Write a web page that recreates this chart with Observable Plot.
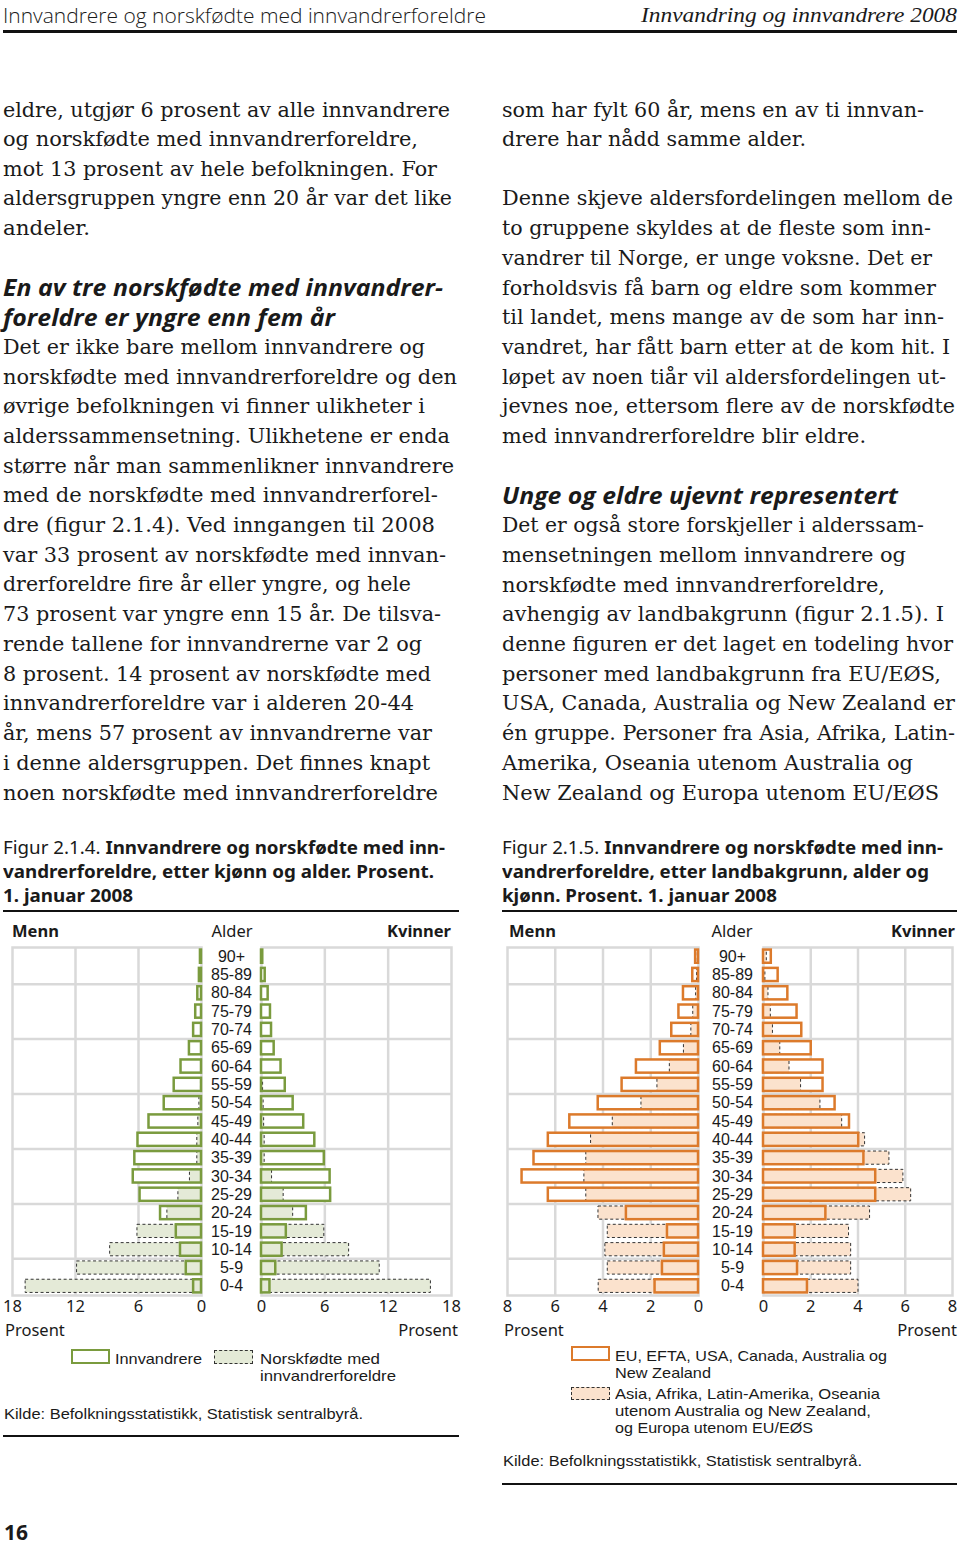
<!DOCTYPE html>
<html><head><meta charset="utf-8">
<script src="https://cdn.jsdelivr.net/npm/d3@7"></script>
<script src="https://cdn.jsdelivr.net/npm/@observablehq/plot@0.6"></script>
<style>
html,body{margin:0;padding:0;background:#fff;}
#page{position:relative;width:960px;height:1545px;background:#fff;overflow:hidden;color:#1a1a1a;}
.t{position:absolute;white-space:nowrap;line-height:1;transform-origin:0 50%;}
.body{font-family:"DejaVu Serif";font-size:21px;}
.head{font-family:"Open Sans";font-weight:700;font-style:italic;font-size:23px;}
.cap{font-family:"Noto Sans";font-size:17.5px;}
.cap b{font-weight:700;}
.lab{font-family:"Noto Sans";font-size:16.5px;}
.labb{font-family:"Noto Sans";font-size:16.5px;font-weight:700;}
.leg{font-family:"Liberation Sans";font-size:15px;}
.hdl{font-family:"Open Sans";font-weight:300;font-size:21px;}
.hdr{font-family:"Liberation Serif";font-style:italic;font-size:22px;}
.pg{font-family:"Noto Sans";font-weight:700;font-size:21px;}
.rule{position:absolute;background:#111;}
.sw{position:absolute;box-sizing:border-box;}
svg{position:absolute;overflow:visible;}
</style></head>
<body><div id="page"></div>
<script>
// ---------- DATA ----------
const ages = ["0-4","5-9","10-14","15-19","20-24","25-29","30-34","35-39","40-44","45-49","50-54","55-59","60-64","65-69","70-74","75-79","80-84","85-89","90+"];
// Figur 2.1.4 (prosent)
const innvMenn   = [0.75,1.45,2.0,2.4,3.9,5.85,6.5,6.35,6.05,5.0,3.55,2.6,1.95,1.15,0.75,0.55,0.35,0.2,0.1];
const norskMenn  = [16.75,11.85,8.7,6.1,3.25,2.2,1.1,0.4,0.4,0.3,0.2,0.05,0.03,0.02,0.02,0.01,0.01,0,0];
const innvKv     = [0.8,1.35,1.95,2.35,4.25,6.55,6.5,5.95,5.05,4.0,3.0,2.25,1.85,1.2,0.95,0.85,0.63,0.35,0.12];
const norskKv    = [16.05,11.2,8.3,5.95,3.0,2.1,1.0,0.3,0.3,0.25,0.2,0.15,0.05,0.03,0.02,0.01,0.01,0,0];
// Figur 2.1.5 (prosent)
const euMenn     = [1.82,1.51,1.43,1.3,3.02,6.29,7.39,6.89,6.29,5.39,4.2,3.2,2.6,1.6,1.12,0.82,0.63,0.24,0.12];
const asiaMenn   = [4.18,3.8,3.9,3.8,4.19,4.7,4.78,4.7,4.5,3.59,2.39,1.72,1.2,0.61,0.3,0.22,0.1,0.06,0.03];
const euKv       = [1.86,1.44,1.34,1.34,2.64,4.75,4.75,4.25,4.03,3.64,3.03,2.52,2.52,2.02,1.62,1.42,1.03,0.62,0.33];
const asiaKv     = [4.02,3.71,3.71,3.62,4.51,6.25,5.92,5.33,4.3,3.33,2.41,1.59,1.1,0.71,0.4,0.31,0.21,0.08,0.14];
const ticks1 = [0,6,12,18];
const ticks2 = [0,2,4,6,8];
const gridAgeBreaks = [2,5,8,11,14,17];

// ---------- TEXT ----------
const page = document.getElementById('page');
function txt(x, y, content, o = {}) {
  const el = document.createElement('div');
  el.className = 't ' + (o.cls || '');
  el.innerHTML = content;
  el.style.left = x + 'px';
  page.appendChild(el);
  const fs = parseFloat(getComputedStyle(el).fontSize);
  el.style.top = (y - fs * (o.k || 0.5)) + 'px';
  const w = el.getBoundingClientRect().width;
  if (o.r != null) el.style.transform = `scaleX(${(o.r - x) / w})`;
  if (o.end != null) el.style.left = (o.end - w) + 'px';
  if (o.c != null) el.style.left = (o.c - w / 2) + 'px';
  return el;
}
function rule(x1, x2, y, h) {
  const d = document.createElement('div');
  d.className = 'rule';
  Object.assign(d.style, {left: x1 + 'px', width: (x2 - x1) + 'px', top: (y - h / 2) + 'px', height: h + 'px'});
  page.appendChild(d);
}

// header
txt(3, 15, "Innvandrere og norskfødte med innvandrerforeldre", {cls: 'hdl', r: 486});
txt(641, 15, "Innvandring og innvandrere 2008", {cls: 'hdr', r: 957});
rule(3, 957, 31, 3);

const colL = [
 [110,"eldre, utgjør 6 prosent av alle innvandrere",450,"body"],
 [139,"og norskfødte med innvandrerforeldre,",418,"body"],
 [169,"mot 13 prosent av hele befolkningen. For",437,"body"],
 [198,"aldersgruppen yngre enn 20 år var det like",452,"body"],
 [228,"andeler.",90,"body"],
 [287,"En av tre norskfødte med innvandrer-",443,"head"],
 [317,"foreldre er yngre enn fem år",335,"head"],
 [347,"Det er ikke bare mellom innvandrere og",425,"body"],
 [377,"norskfødte med innvandrerforeldre og den",457,"body"],
 [406,"øvrige befolkningen vi finner ulikheter i",425,"body"],
 [436,"alderssammensetning. Ulikhetene er enda",450,"body"],
 [466,"større når man sammenlikner innvandrere",454,"body"],
 [495,"med de norskfødte med innvandrerforel-",438,"body"],
 [525,"dre (figur 2.1.4). Ved inngangen til 2008",435,"body"],
 [555,"var 33 prosent av norskfødte med innvan-",446,"body"],
 [584,"drerforeldre fire år eller yngre, og hele",411,"body"],
 [614,"73 prosent var yngre enn 15 år. De tilsva-",441,"body"],
 [644,"rende tallene for innvandrerne var 2 og",422,"body"],
 [674,"8 prosent. 14 prosent av norskfødte med",431,"body"],
 [703,"innvandrerforeldre var i alderen 20-44",414,"body"],
 [733,"år, mens 57 prosent av innvandrerne var",432,"body"],
 [763,"i denne aldersgruppen. Det finnes knapt",430,"body"],
 [793,"noen norskfødte med innvandrerforeldre",438,"body"]
];
const colR = [
 [110,"som har fylt 60 år, mens en av ti innvan-",924,"body"],
 [139,"drere har nådd samme alder.",806,"body"],
 [198,"Denne skjeve aldersfordelingen mellom de",953,"body"],
 [228,"to gruppene skyldes at de fleste som inn-",931,"body"],
 [258,"vandrer til Norge, er unge voksne. Det er",932,"body"],
 [288,"forholdsvis få barn og eldre som kommer",936,"body"],
 [317,"til landet, mens mange av de som har inn-",944,"body"],
 [347,"vandret, har fått barn etter at de kom hit. I",950,"body"],
 [377,"løpet av noen tiår vil aldersfordelingen ut-",946,"body"],
 [406,"jevnes noe, ettersom flere av de norskfødte",955,"body"],
 [436,"med innvandrerforeldre blir eldre.",866,"body"],
 [495,"Unge og eldre ujevnt representert",898,"head"],
 [525,"Det er også store forskjeller i alderssam-",924,"body"],
 [555,"mensetningen mellom innvandrere og",906,"body"],
 [585,"norskfødte med innvandrerforeldre,",885,"body"],
 [614,"avhengig av landbakgrunn (figur 2.1.5). I",944,"body"],
 [644,"denne figuren er det laget en todeling hvor",953,"body"],
 [674,"personer med landbakgrunn fra EU/EØS,",941,"body"],
 [703,"USA, Canada, Australia og New Zealand er",955,"body"],
 [733,"én gruppe. Personer fra Asia, Afrika, Latin-",955,"body"],
 [763,"Amerika, Oseania utenom Australia og",913,"body"],
 [793,"New Zealand og Europa utenom EU/EØS",939,"body"]
];
colL.forEach(([y, s, r, c]) => txt(3, y, s, {cls: c, r}));
colR.forEach(([y, s, r, c]) => txt(502, y, s, {cls: c, r}));

// captions
txt(3, 848, "Figur 2.1.4. <b>Innvandrere og norskfødte med inn-</b>", {cls: "cap", r: 445});
txt(3, 872, "<b>vandrerforeldre, etter kjønn og alder. Prosent.</b>", {cls: "cap", r: 434});
txt(3, 896, "<b>1. januar 2008</b>", {cls: "cap", r: 133});
rule(3, 459, 911, 1.6);
txt(502, 848, "Figur 2.1.5. <b>Innvandrere og norskfødte med inn-</b>", {cls: "cap", r: 943});
txt(502, 872, "<b>vandrerforeldre, etter landbakgrunn, alder og</b>", {cls: "cap", r: 929});
txt(502, 896, "<b>kjønn. Prosent. 1. januar 2008</b>", {cls: "cap", r: 777});
rule(502, 957, 911, 1.6);

// chart headings
txt(12, 931, "Menn", {cls: "labb"});
txt(0, 931, "Alder", {cls: "lab", c: 232});
txt(0, 931, "Kvinner", {cls: "labb", end: 451});
txt(509, 931, "Menn", {cls: "labb"});
txt(0, 931, "Alder", {cls: "lab", c: 732});
txt(0, 931, "Kvinner", {cls: "labb", end: 955});
txt(5, 1330, "Prosent", {cls: "lab"});
txt(0, 1330, "Prosent", {cls: "lab", end: 458});
txt(504, 1330, "Prosent", {cls: "lab"});
txt(0, 1330, "Prosent", {cls: "lab", end: 957});

// legends
const GREEN = "#7a9b3e", GREENL = "#e4ead7", ORANGE = "#dc7a2b", ORANGEL = "#fbe2cd", GRID = "#d9d9d9";
function swatch(x, y, w, h, border, bg) {
  const d = document.createElement('div');
  d.className = 'sw';
  Object.assign(d.style, {left: x + 'px', top: y + 'px', width: w + 'px', height: h + 'px', border, background: bg});
  page.appendChild(d);
}
swatch(71, 1349, 39, 15, `2.5px solid ${GREEN}`, "#fff");
txt(115, 1358, "Innvandrere", {cls: "leg", r: 202});
swatch(214, 1350, 39, 14, "1px dashed #333", GREENL);
txt(260, 1358, "Norskfødte med", {cls: "leg", r: 380});
txt(260, 1375, "innvandrerforeldre", {cls: "leg", r: 396});
txt(4, 1413, "Kilde: Befolkningsstatistikk, Statistisk sentralbyrå.", {cls: "leg", r: 363});
rule(3, 459, 1436, 1.6);

swatch(571, 1346, 39, 15, `2.5px solid ${ORANGE}`, "#fff");
txt(615, 1355, "EU, EFTA, USA, Canada, Australia og", {cls: "leg", r: 887});
txt(615, 1372, "New Zealand", {cls: "leg", r: 711});
swatch(571, 1387, 39, 13, "1px dashed #333", ORANGEL);
txt(615, 1393, "Asia, Afrika, Latin-Amerika, Oseania", {cls: "leg", r: 880});
txt(615, 1410, "utenom Australia og New Zealand,", {cls: "leg", r: 871});
txt(615, 1427, "og Europa utenom EU/EØS", {cls: "leg", r: 813});
txt(503, 1460, "Kilde: Befolkningsstatistikk, Statistisk sentralbyrå.", {cls: "leg", r: 862});
rule(502, 957, 1484, 1.6);

txt(4, 1532, "16", {cls: "pg"});

// ---------- CHARTS ----------
function half({left, top, side, solid, dashed, max, ticks, marginLeft, marginRight, frameW, stroke, light, labels, labelDx}) {
  const data = ages.map((a, i) => ({i, a, s: solid[i], d: dashed[i]}));
  const y1 = d => d.i + 0.14, y2 = d => d.i + 0.86;
  const marks = [
    Plot.ruleX(ticks.filter(t => t > 0 && t < max), {stroke: GRID, strokeWidth: 2.5}),
    Plot.ruleY(gridAgeBreaks, {stroke: GRID, strokeWidth: 2.5}),
    Plot.frame({stroke: GRID, strokeWidth: 2.5}),
    Plot.rect(data, {x1: 0, x2: "s", y1, y2, fill: "white"}),
    Plot.rect(data, {x1: 0, x2: "d", y1, y2, fill: light, stroke: "#333", strokeWidth: 1, strokeDasharray: "3,2.5"}),
    Plot.rect(data, {x1: 0, x2: "s", y1, y2, fill: "none", stroke, strokeWidth: 2.5})
  ];
  if (labels) marks.push(Plot.text(data, {y: d => d.i + 0.5, text: "a", frameAnchor: "left", dx: labelDx, textAnchor: "middle", fontSize: 16, fontFamily: "Liberation Sans", fill: "#1a1a1a"}));
  const svg = Plot.plot({
    width: marginLeft + frameW + marginRight,
    height: 378,
    marginTop: 5, marginBottom: 25, marginLeft, marginRight,
    x: {domain: side === "m" ? [max, 0] : [0, max], ticks, tickSize: 0, tickPadding: 5, label: null},
    y: {domain: [0, 19], axis: null},
    style: {fontFamily: "Noto Sans", fontSize: "16.5px", color: "#1a1a1a", background: "transparent", overflow: "visible"},
    marks
  });
  svg.style.left = left + "px";
  svg.style.top = top + "px";
  page.appendChild(svg);
}
const T = 942;
half({left: 0, top: T, side: "m", solid: innvMenn, dashed: norskMenn, max: 18, ticks: ticks1, marginLeft: 12, marginRight: 9, frameW: 189, stroke: GREEN, light: GREENL});
half({left: 201, top: T, side: "k", solid: innvKv, dashed: norskKv, max: 18, ticks: ticks1, marginLeft: 60, marginRight: 9, frameW: 190, stroke: GREEN, light: GREENL, labels: true, labelDx: -30});
half({left: 495, top: T, side: "m", solid: euMenn, dashed: asiaMenn, max: 8, ticks: ticks2, marginLeft: 12, marginRight: 5, frameW: 191, stroke: ORANGE, light: ORANGEL});
half({left: 703, top: T, side: "k", solid: euKv, dashed: asiaKv, max: 8, ticks: ticks2, marginLeft: 60, marginRight: 6, frameW: 189, stroke: ORANGE, light: ORANGEL, labels: true, labelDx: -31});
</script>
</body></html>
